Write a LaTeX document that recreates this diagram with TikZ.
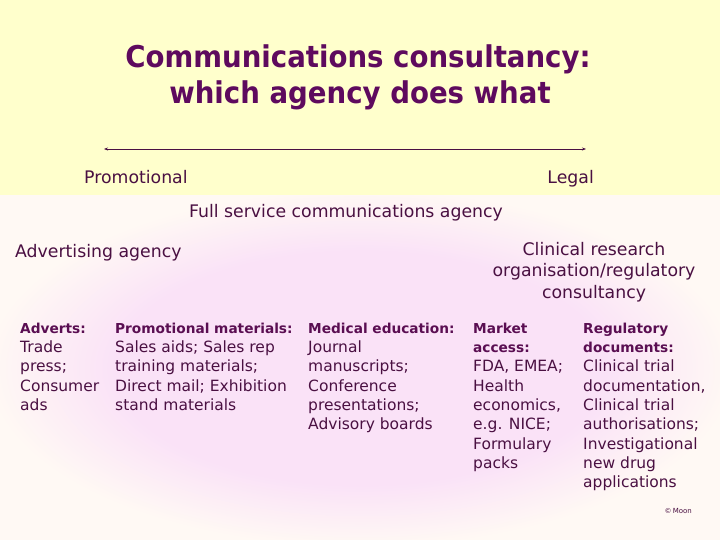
\documentclass[tikz,border=0pt]{standalone}
\usepackage{fontspec}
\setmainfont{DejaVu Sans}
\usetikzlibrary{arrows.meta}
\definecolor{bgyellow}{HTML}{FFFFCC}
\definecolor{bgpink}{HTML}{FAE2F7}
\definecolor{bgpale}{HTML}{FFF9F4}
\definecolor{titlecol}{HTML}{5E0A5E}
\definecolor{txtcol}{HTML}{4A1042}
\definecolor{boldcol}{HTML}{5A0E52}
\pgfdeclareradialshading{pinkfade}{\pgfpoint{0bp}{0bp}}{color(0bp)=(bgpink); color(17bp)=(bgpink); color(26bp)=(bgpale); color(50bp)=(bgpale)}
\tikzset{
  titletext/.style={font=\fontsize{30}{36}\selectfont\bfseries, text=titlecol, inner sep=0, anchor=base},
  labeltext/.style={font=\fontsize{17.3}{21.5}\selectfont, text=txtcol, inner sep=0},
  coltext/.style={font=\fontsize{15.5}{19.35}\selectfont, text=txtcol, inner sep=0, anchor=base west},
}
\newcommand{\hdr}[1]{{\fontsize{13.7}{19.35}\selectfont\bfseries\color{boldcol}#1}}
\newcommand{\colL}[1]{\begin{tabular}[t]{@{}l@{}}#1\end{tabular}}
\newcommand{\colC}[1]{\begin{tabular}[t]{@{}c@{}}#1\end{tabular}}
\begin{document}
\begin{tikzpicture}[x=1pt,y=-1pt]
\useasboundingbox (0,0) rectangle (720,540);
\fill[bgyellow] (0,0) rectangle (720,196);
\fill[bgpale] (0,196) rectangle (720,540);
\shade[shading=pinkfade] (0,196) rectangle (720,540);
% title
\node[titletext] (t1) at (358,68) {\scalebox{0.92}[1]{Communications consultancy:}};
\node[titletext] (t2) at (360,104) {\scalebox{0.92}[1]{which agency does what}};
% scale
\coordinate (aL) at (104,149);
\coordinate (aR) at (586,149);
\draw[txtcol, line width=0.8pt, {Stealth[length=4pt,width=3pt]}-{Stealth[length=4pt,width=3pt]}] (aL) -- (aR);
\node[labeltext, anchor=base west] (promo) at (84,184) {Promotional};
\node[labeltext, anchor=base east] (legal) at (594,184) {Legal};
\node[labeltext, anchor=base] (full) at (346,218) {Full service communications agency};
\node[labeltext, anchor=base west] (adv) at (15,257) {Advertising agency};
\node[labeltext, anchor=base] (cro) at (594,255) {\colC{Clinical research\\organisation/regulatory\\consultancy}};
% columns
\node[coltext] (c1) at (20,333) {\colL{\hdr{Adverts:}\\Trade\\press;\\Consumer\\ads}};
\node[coltext] (c2) at (115,333) {\colL{\hdr{Promotional materials:}\\Sales aids; Sales rep\\training materials;\\Direct mail; Exhibition\\stand materials}};
\node[coltext] (c3) at (308,333) {\colL{\hdr{Medical education:}\\Journal\\manuscripts;\\Conference\\presentations;\\Advisory boards}};
\node[coltext] (c4) at (473,333) {\colL{\hdr{Market}\\\hdr{access:}\\FDA, EMEA;\\Health\\economics,\\e.g. NICE;\\Formulary\\packs}};
\node[coltext] (c5) at (583,333) {\colL{\hdr{Regulatory}\\\hdr{documents:}\\Clinical trial\\documentation,\\Clinical trial\\authorisations;\\Investigational\\new drug\\applications}};
\node[font=\fontsize{7}{8}\selectfont, text=txtcol, inner sep=0, anchor=base east] (moon) at (692,513) {\textcopyright\,Moon};
\end{tikzpicture}
\end{document}
